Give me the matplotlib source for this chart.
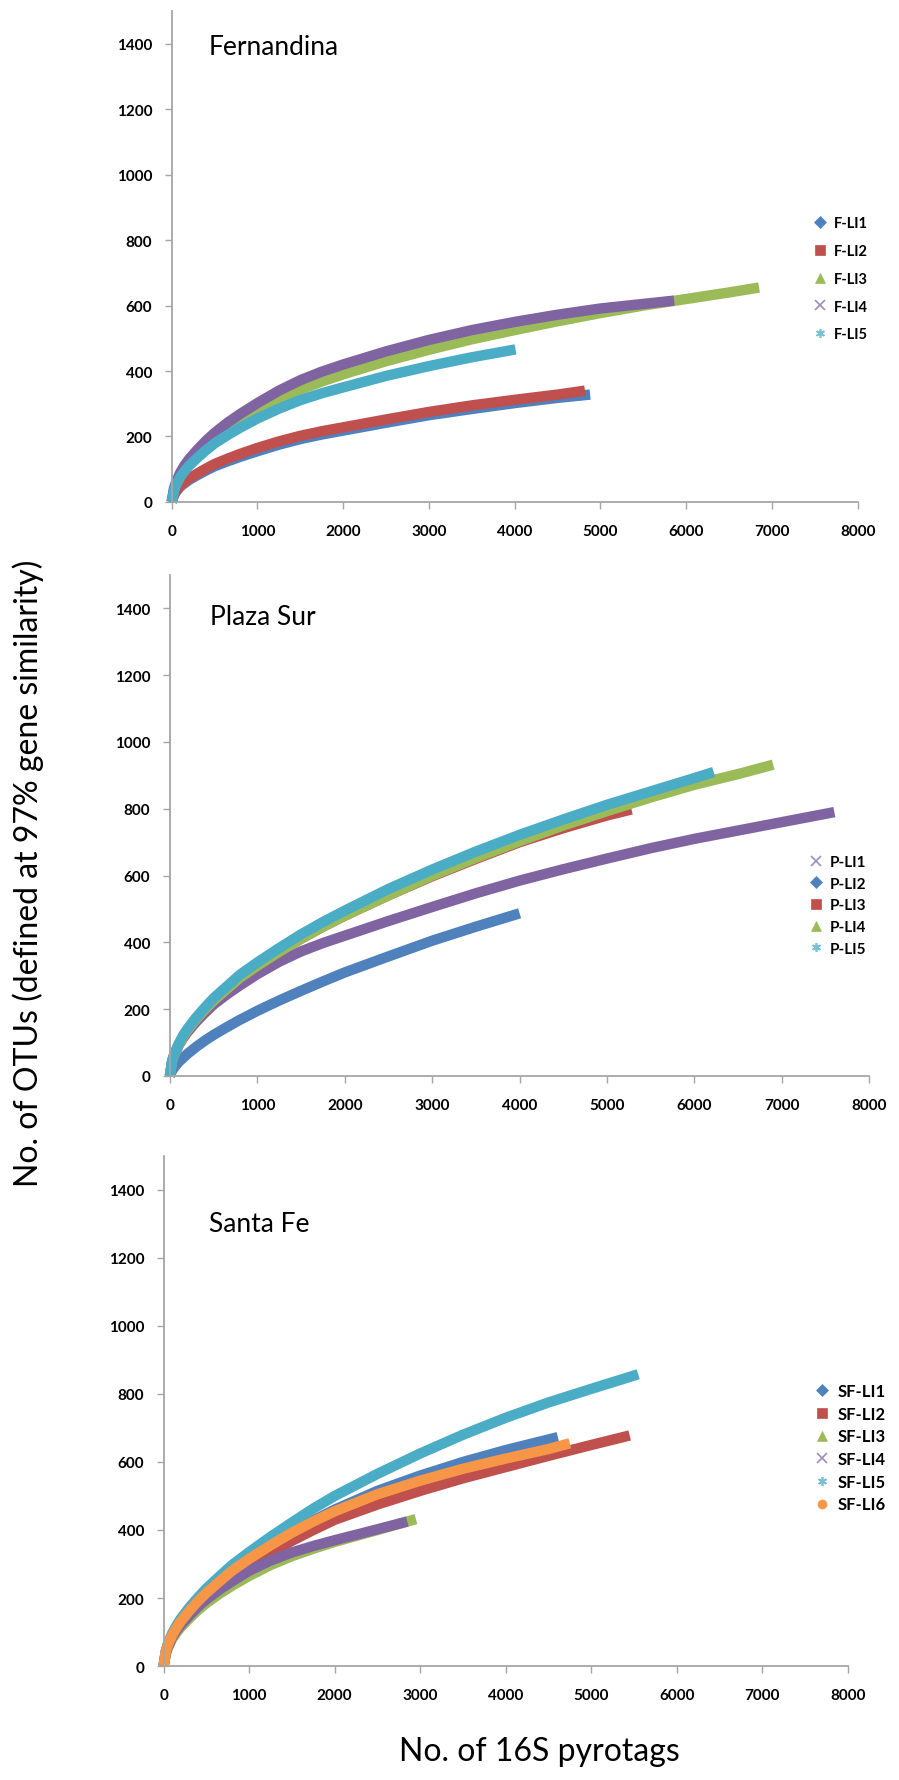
import matplotlib
matplotlib.use('Agg')
import matplotlib.pyplot as plt
from matplotlib.lines import Line2D

plt.rcParams['font.family'] = ['Lato', 'DejaVu Sans']

# colours (Excel 2007 palette)
BLUE = '#4F81BD'
RED = '#C0504D'
GREEN = '#9BBB59'
PURPLE = '#8064A2'
CYAN = '#4BACC6'
ORANGE = '#F79646'

# read-off sample sizes (x) used by most curves
LOW = [0, 25, 50, 100, 150, 200, 300, 400, 500, 650, 800, 1000, 1250, 1500, 1750, 2000]

# ---- Fernandina ----
f_li1_x = LOW + [2500, 3000, 3500, 4000, 4500, 4880]
f_li1_y = [0, 20, 31, 47, 57, 67, 82, 96, 109, 124, 138, 155, 175, 192, 206, 218,
           242, 265, 284, 302, 318, 328]
f_li2_x = LOW + [2500, 3000, 3500, 4000, 4500, 4820]
f_li2_y = [0, 21, 33, 50, 61, 71, 87, 102, 116, 132, 147, 165, 185, 202, 216, 228,
           252, 275, 295, 312, 328, 340]
f_li3_x = LOW + [2500, 3000, 3500, 4000, 4500, 5000, 5500, 6000, 6500, 6850]
f_li3_y = [0, 36, 55, 83, 102, 118, 146, 171, 193, 220, 245, 275, 312, 343, 368, 390,
           430, 465, 497, 525, 552, 577, 600, 620, 640, 655]
f_li4_x = LOW + [2500, 3000, 3500, 4000, 4500, 5000, 5500, 5860]
f_li4_y = [0, 40, 60, 90, 112, 130, 160, 187, 211, 242, 269, 302, 340, 372, 398, 420,
           460, 495, 525, 550, 572, 591, 605, 615]
f_li5_x = LOW + [2500, 3000, 3500, 4010]
f_li5_y = [0, 33, 51, 77, 94, 110, 135, 158, 179, 204, 227, 255, 285, 311, 332, 350,
           385, 415, 442, 466]

# ---- Plaza Sur ----
p_li1_x = LOW + [2500, 3000, 3500, 4000, 4500, 5000, 5500, 6000, 6500, 7000, 7600]
p_li1_y = [0, 40, 61, 92, 113, 131, 162, 189, 214, 244, 271, 305, 342, 373, 398, 420,
           464, 506, 547, 585, 619, 651, 682, 710, 735, 760, 790]
p_li2_x = LOW + [2500, 3000, 3500, 4000]
p_li2_y = [0, 16, 26, 42, 54, 66, 87, 106, 123, 146, 168, 195, 226, 255, 283, 310,
           358, 405, 447, 487]
p_li3_x = LOW + [2500, 3000, 3500, 4000, 4500, 5000, 5280]
p_li3_y = [0, 44, 64, 93, 117, 137, 170, 199, 226, 260, 294, 330, 372, 411, 447, 480,
           541, 598, 650, 700, 742, 780, 798]
p_li4_x = LOW + [2500, 3000, 3500, 4000, 4500, 5000, 5500, 6000, 6500, 6900]
p_li4_y = [0, 44, 64, 93, 117, 137, 170, 199, 226, 260, 294, 330, 372, 411, 447, 480,
           541, 600, 653, 703, 750, 793, 834, 872, 904, 932]
p_li5_x = LOW + [2500, 3000, 3500, 4000, 4500, 5000, 5500, 6000, 6220]
p_li5_y = [0, 45, 66, 96, 121, 141, 175, 205, 233, 268, 303, 340, 383, 424, 461, 495,
           560, 618, 672, 722, 768, 812, 852, 892, 910]

# ---- Santa Fe ----
sf_li1_x = LOW + [2500, 3000, 3500, 4000, 4610]
sf_li1_y = [0, 42, 62, 90, 112, 131, 162, 190, 215, 248, 280, 315, 355, 394, 428, 460,
            515, 560, 600, 635, 673]
sf_li2_x = LOW + [2500, 3000, 3500, 4000, 4500, 5000, 5450]
sf_li2_y = [0, 39, 58, 85, 105, 123, 152, 178, 202, 233, 263, 295, 333, 368, 400, 430,
            475, 515, 552, 585, 618, 650, 678]
sf_li3_x = LOW + [2500, 2950]
sf_li3_y = [0, 35, 53, 80, 98, 114, 140, 164, 185, 212, 236, 265, 297, 323, 345, 365,
            400, 432]
sf_li4_x = LOW + [2500, 2850]
sf_li4_y = [0, 37, 56, 84, 104, 120, 148, 174, 196, 224, 249, 280, 310, 334, 353, 370,
            402, 425]
sf_li5_x = LOW + [2500, 3000, 3500, 4000, 4500, 5000, 5550]
sf_li5_y = [0, 44, 66, 96, 119, 139, 172, 201, 228, 263, 297, 335, 380, 422, 463, 500,
            565, 625, 680, 730, 775, 815, 858]
sf_li6_x = LOW + [2500, 3000, 3500, 4000, 4500, 4750]
sf_li6_y = [0, 42, 62, 90, 112, 131, 162, 190, 215, 248, 280, 315, 355, 392, 425, 455,
            505, 545, 580, 610, 638, 655]

STAR = (6, 2, 0)

panels = [
    dict(title='Fernandina', tx=430, ty=1390,
         rect=[0.191, 0.7176, 0.763, 0.2757],
         series=[('F-LI1', f_li1_x, f_li1_y, BLUE, 'D'),
                 ('F-LI2', f_li2_x, f_li2_y, RED, 's'),
                 ('F-LI3', f_li3_x, f_li3_y, GREEN, '^'),
                 ('F-LI4', f_li4_x, f_li4_y, PURPLE, 'x'),
                 ('F-LI5', f_li5_x, f_li5_y, CYAN, STAR)],
         leg=(813, 217), legfs=10.5, legsp=0.95),
    dict(title='Plaza Sur', tx=455, ty=1375,
         rect=[0.189, 0.3953, 0.778, 0.2813],
         series=[('P-LI1', p_li1_x, p_li1_y, PURPLE, 'x'),
                 ('P-LI2', p_li2_x, p_li2_y, BLUE, 'D'),
                 ('P-LI3', p_li3_x, p_li3_y, RED, 's'),
                 ('P-LI4', p_li4_x, p_li4_y, GREEN, '^'),
                 ('P-LI5', p_li5_x, p_li5_y, CYAN, STAR)],
         leg=(808, 856), legfs=11, legsp=0.5),
    dict(title='Santa Fe', tx=530, ty=1300,
         rect=[0.182, 0.064, 0.761, 0.2864],
         series=[('SF-LI1', sf_li1_x, sf_li1_y, BLUE, 'D'),
                 ('SF-LI2', sf_li2_x, sf_li2_y, RED, 's'),
                 ('SF-LI3', sf_li3_x, sf_li3_y, GREEN, '^'),
                 ('SF-LI4', sf_li4_x, sf_li4_y, PURPLE, 'x'),
                 ('SF-LI5', sf_li5_x, sf_li5_y, CYAN, STAR),
                 ('SF-LI6', sf_li6_x, sf_li6_y, ORANGE, 'o')],
         leg=(814, 1384), legfs=12, legsp=0.4),
]

W, H = 899, 1781
fig = plt.figure(figsize=(W / 100, H / 100), dpi=100)

for p in panels:
    ax = fig.add_axes(p['rect'])
    handles = []
    for name, xs, ys, col, mk in p['series']:
        ax.plot(xs, ys, color=col, lw=7.5, solid_capstyle='butt',
                solid_joinstyle='round', clip_on=False)
        thin = mk in ('x', STAR)
        handles.append(Line2D([], [], ls='none', marker=mk, color=col,
                              markersize=6.5, markeredgewidth=1.2 if thin else 0.5,
                              alpha=0.75 if thin else 1.0, label=name))
    ax.set_xlim(0, 8000)
    ax.set_ylim(0, 1500)
    ax.set_xticks(range(0, 8001, 1000))
    ax.set_yticks(range(0, 1401, 200))
    for s in ['top', 'right']:
        ax.spines[s].set_visible(False)
    for s in ['left', 'bottom']:
        ax.spines[s].set_color('#a6a6a6')
        ax.spines[s].set_linewidth(1.3)
    ax.tick_params(axis='both', direction='out', color='#a6a6a6', length=5, width=1,
                   labelsize=11)
    ax.tick_params(axis='x', pad=11)
    ax.tick_params(axis='y', pad=9)
    for lab in ax.get_xticklabels() + ax.get_yticklabels():
        lab.set_fontweight('bold')
    ax.text(p['tx'], p['ty'], p['title'], fontsize=19, va='center', ha='left')
    lx, ly = p['leg']
    ax.legend(handles=handles, loc='upper left', bbox_to_anchor=(lx / W, 1 - ly / H),
              bbox_transform=fig.transFigure, frameon=False, borderpad=0,
              borderaxespad=0, handlelength=1.0, handletextpad=0.4,
              labelspacing=p['legsp'], prop={'size': p['legfs'], 'weight': 'bold'})

fig.text(28 / W, 1 - 873 / H, 'No. of OTUs (defined at 97% gene similarity)',
         rotation=90, fontsize=23, ha='center', va='center')
fig.text(539 / W, 1 - 1752 / H, 'No. of 16S pyrotags', fontsize=23,
         ha='center', va='center')

fig.savefig('out.png', dpi=100)
